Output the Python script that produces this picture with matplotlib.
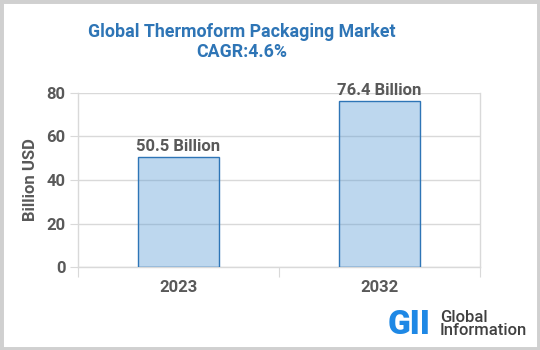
import matplotlib
matplotlib.use("Agg")
import matplotlib.pyplot as plt
from matplotlib.patches import Rectangle

categories = ["2023", "2032"]
values = [50.5, 76.4]
labels = ["50.5 Billion", "76.4 Billion"]
yticks = [0, 20, 40, 60, 80]
title_lines = ["Global Thermoform Packaging Market", "CAGR:4.6%"]
ylabel = "Billion USD"

plt.rcParams['font.family'] = ['Roboto', 'DejaVu Sans']

W, H = 540, 350
fig = plt.figure(figsize=(W/100, H/100), dpi=100)
fig.patch.set_facecolor('white')

ax = fig.add_axes([78/W, 1-267/H, (480-78)/W, (267-93)/H])
x = list(range(len(categories)))
ax.bar(x, values, width=0.4, color='#5b9bd5', alpha=0.4, zorder=3)
ax.bar(x, values, width=0.4, fill=False, edgecolor='#2e75b6', linewidth=1.0, zorder=4)
ax.set_xlim(-0.5, len(categories)-0.5)
ax.set_ylim(0, 80)
ax.set_yticks(yticks)
ax.set_yticklabels([str(t) for t in yticks], fontsize=12, fontweight='bold', color='#595959')
ax.yaxis.grid(True, color='#d9d9d9', linewidth=1, zorder=0)
ax.set_axisbelow(True)
ax.tick_params(axis='y', length=6, color='#d9d9d9', pad=3)
ax.set_xticks([-0.5, 0.5, 1.5], minor=False)
ax.set_xticklabels([])
ax.set_xticks(x, minor=True)
ax.set_xticklabels(categories, minor=True, fontsize=12, fontweight='bold', color='#595959')
ax.tick_params(axis='x', which='major', length=7, color='#d9d9d9')
ax.tick_params(axis='x', which='minor', length=0, pad=9)
ax.spines['top'].set_visible(False)
for s in ['left', 'right', 'bottom']:
    ax.spines[s].set_color('#d9d9d9')
    ax.spines[s].set_linewidth(1)
ax.set_ylabel(ylabel, fontsize=12, fontweight='bold', color='#595959', labelpad=6)
for xi, v, lab in zip(x, values, labels):
    ax.text(xi, v + 1.5, lab, ha='center', va='bottom', fontsize=12, fontweight='bold', color='#595959')

fig.text(242/W, 1-32/H, title_lines[0], ha='center', va='center', fontsize=12.8, fontweight='bold', color='#2e75b6')
fig.text(242/W, 1-52/H, title_lines[1], ha='center', va='center', fontsize=12.8, fontweight='bold', color='#2e75b6')

# logo
fig.text(388/W, 1-325/H, "GII", ha='left', va='center', fontsize=24, fontweight='black', color='#1e88e5')
fig.text(440/W, 1-324/H, "Global\nInformation", ha='left', va='center', fontsize=12, fontweight='medium', color='#404040', linespacing=0.9)

fig.add_artist(Rectangle((0, 0), 1, 1, transform=fig.transFigure, fill=False, edgecolor='#d0d0d0', linewidth=5))

fig.savefig("out.png", dpi=100)
